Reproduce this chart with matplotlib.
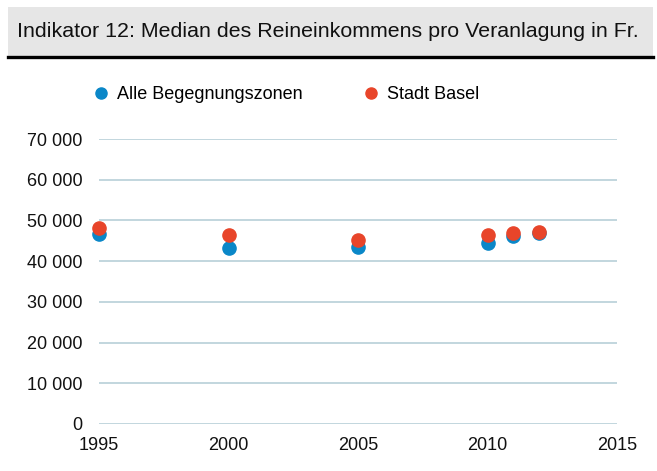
import matplotlib
matplotlib.use("Agg")
import matplotlib.pyplot as plt
from matplotlib.patches import Rectangle
from matplotlib.lines import Line2D

plt.rcParams['font.family'] = ['Liberation Sans', 'DejaVu Sans']

title = "Indikator 12: Median des Reineinkommens pro Veranlagung in Fr."
years = [1995, 2000, 2005, 2010, 2011, 2012]
begegnung = [46700, 43300, 43400, 44500, 46100, 47000]
basel = [48150, 46300, 45300, 46500, 47000, 47100]
series_names = ["Alle Begegnungszonen", "Stadt Basel"]
colors = ["#0a87c8", "#e8452a"]
yticks = [0, 10000, 20000, 30000, 40000, 50000, 60000, 70000]
xticks = [1995, 2000, 2005, 2010, 2015]

W, H = 657, 471
fig = plt.figure(figsize=(W/100, H/100), dpi=100)

# Title box
fig.patches.append(Rectangle((8/W, 1-56/H), 645/W, 49/H, transform=fig.transFigure,
                             facecolor="#e6e6e6", edgecolor="none", zorder=0))
fig.lines.append(Line2D([8/W, 653/W], [1-57/H, 1-57/H], transform=fig.transFigure,
                        color="black", linewidth=2.4))
fig.text(17/W, 1-37/H, title, fontsize=15.4, va="baseline", ha="left", color="#111111")

ax = fig.add_axes([99/W, 1-424/H, (617-99)/W, (424-139)/H])
ax.plot(years, begegnung, 'o', color=colors[0], markersize=9.5, linestyle='none', zorder=3, clip_on=False)
ax.plot(years, basel, 'o', color=colors[1], markersize=9.5, linestyle='none', zorder=4, clip_on=False)

ax.set_xlim(1995, 2015)
ax.set_ylim(0, 70000)
ax.set_xticks(xticks)
ax.set_yticks(yticks)
ax.set_yticklabels([f"{v:,}".replace(",", " ") for v in yticks])
ax.tick_params(axis='both', length=0, labelsize=13, colors="#111111")
ax.tick_params(axis='y', pad=12)
ax.tick_params(axis='x', pad=9)
for s in ax.spines.values():
    s.set_visible(False)
ax.yaxis.grid(True, color="#b8cfd8", linewidth=1.2)
ax.set_axisbelow(True)

# Legend
handles = [Line2D([], [], marker='o', color=c, linestyle='none', markersize=8) for c in colors]
fig.legend(handles, series_names, loc="center left", bbox_to_anchor=(91.7/W, 1-94.5/H),
           ncol=2, frameon=False, fontsize=13, handletextpad=0.4, columnspacing=3.3,
           handlelength=1.0, borderaxespad=0, borderpad=0)

fig.savefig("out.png", dpi=100)
